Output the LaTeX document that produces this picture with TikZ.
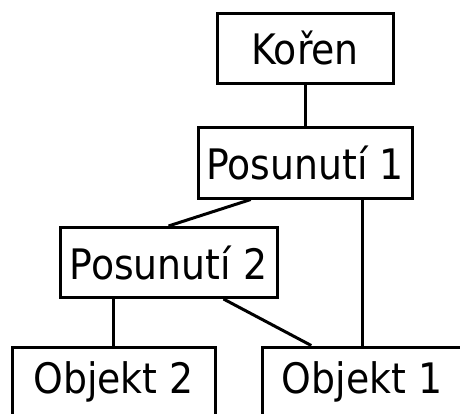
\documentclass[tikz,border=0pt]{standalone}
\usepackage{fontspec}
\setmainfont{DejaVu Sans Condensed}
\usetikzlibrary{calc, positioning}
\tikzset{
    boxN/.style={draw, line width=3pt, inner sep=0pt, minimum height=70pt,
        font=\fontsize{42}{50}\selectfont},
    edgeN/.style={line width=3pt}
}
\begin{document}
\begin{tikzpicture}[x=1pt, y=-1pt]
    \useasboundingbox (0,0) rectangle (460,414);
    \clip (0,0) rectangle (460,414);
    \node[boxN, minimum width=176pt] (koren) at (305, 48.5) {Kořen};
    \node[boxN, minimum width=214pt] (pos1) at (305, 163) {Posunutí 1};
    \node[boxN, minimum width=217pt] (pos2) at (168.5, 262.5) {Posunutí 2};
    \node[boxN, minimum width=203pt] (obj2) at (113.5, 382) {Objekt 2};
    \node[boxN, minimum width=200pt] (obj1) at (362, 382) {Objekt 1};
    \draw[edgeN] (koren) -- (pos1);
    \draw[edgeN] ($(pos1.south west)!0.25!(pos1.south east)$) -- (pos2.north);
    \draw[edgeN] (obj1.north) -- (obj1.north |- pos1.south);
    \draw[edgeN] (obj2.north) -- (obj2.north |- pos2.south);
    \draw[edgeN] ($(pos2.south west)!0.75!(pos2.south east)$) -- ($(obj1.north west)!0.25!(obj1.north east)$);
\end{tikzpicture}
\end{document}
